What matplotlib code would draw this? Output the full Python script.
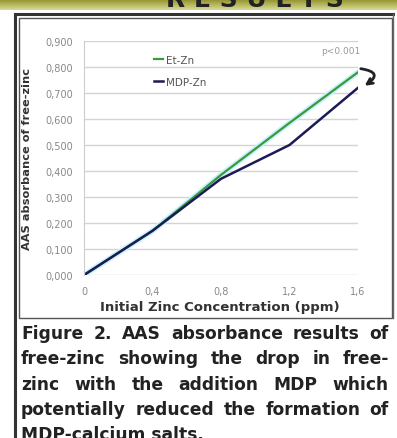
"""
AAS absorbance of free zinc, Figure 2 from poster
"""

import matplotlib.pyplot as plt
from matplotlib.patches import Rectangle
from matplotlib.colors import LinearSegmentedColormap
import numpy as np

conc = [0, 0.4, 0.8, 1.2, 1.6]
et_zn = [0.0, 0.17, 0.385, 0.585, 0.78]
mdp_zn = [0.0, 0.17, 0.37, 0.50, 0.72]
yticks = [0.0, 0.1, 0.2, 0.3, 0.4, 0.5, 0.6, 0.7, 0.8, 0.9]
xticks = [0, 0.4, 0.8, 1.2, 1.6]
xtick_labels = ["0", "0,4", "0,8", "1,2", "1,6"]

caption_lines = [
    "Figure 2.  AAS absorbance results of",
    "free-zinc showing the drop in free-",
    "zinc with the addition MDP which",
    "potentially reduced the formation of",
    "MDP-calcium salts.",
]

W, H = 397, 439
fig = plt.figure(figsize=(W / 100, H / 100), dpi=100)
fig.patch.set_facecolor("white")


def fx(px):
    return px / W


def fy(py):
    return 1 - py / H


# top banner
grad = np.linspace(0, 1, 20).reshape(-1, 1)
ban = fig.add_axes([0, fy(11), 1, 11 / H])
ban.imshow(grad, aspect="auto", extent=[0, 1, 0, 1],
           cmap=LinearSegmentedColormap.from_list("b", ["#8f8f30", "#b5b75a", "#d6d89a"]))
ban.axis("off")
fig.text(fx(255), fy(7), "R E S U L T S", ha="center", va="baseline", fontsize=18,
         fontweight="bold", color="#222222")

# frames
fig.add_artist(plt.Line2D([fx(15), fx(15)], [fy(15), 0], color="#333333", lw=2.2))
fig.add_artist(plt.Line2D([fx(15), fx(393)], [fy(15), fy(15)], color="#333333", lw=2.2))
fig.add_artist(Rectangle((fx(19), fy(319)), fx(373), 300 / H, fill=False,
                         edgecolor="#555555", lw=1.0))
fig.add_artist(plt.Line2D([fx(393), fx(393)], [fy(15), fy(319)], color="#666666", lw=1.0))

ax = fig.add_axes([fx(84), fy(276), fx(274), (276 - 42) / H])
ax.plot(conc, et_zn, color="#c8f0ff", lw=4, solid_capstyle="round")
ax.plot(conc, et_zn, color="#3a9a3a", lw=1.6, label="Et-Zn")
ax.plot(conc, mdp_zn, color="#1b1b55", lw=1.8, label="MDP-Zn")

ax.set_xlim(0, 1.6)
ax.set_ylim(0, 0.9)
ax.set_yticks(yticks)
ax.set_yticklabels([f"{v:.3f}".replace(".", ",") for v in yticks])
ax.set_xticks(xticks)
ax.set_xticklabels(xtick_labels)
ax.tick_params(length=0, labelsize=7, labelcolor="#888888")
ax.tick_params(axis="y", pad=8)
ax.tick_params(axis="x", pad=8)
ax.grid(axis="y", color="#d4d4d4", lw=1)
for s in ["top", "right", "bottom"]:
    ax.spines[s].set_visible(False)
ax.spines["left"].set_color("#cccccc")
ax.set_xlabel("Initial Zinc Concentration (ppm)", fontsize=9.5, fontweight="bold",
              color="#333333")
ax.xaxis.set_label_coords(0.496, -0.105)
ax.set_ylabel("AAS absorbance of free-zinc", fontsize=8.2, fontweight="bold",
              color="#333333")
ax.yaxis.set_label_coords(-0.19, 0.5)
ax.legend(loc="upper left", bbox_to_anchor=(0.22, 0.98), frameon=False, fontsize=7.5,
          handlelength=0.9, handletextpad=0.3, labelspacing=1.1, labelcolor="#555555")

ax.annotate("", xy=(1.625, 0.722), xytext=(1.6, 0.795), annotation_clip=False,
            arrowprops=dict(arrowstyle="->", color="#222222", lw=2,
                            connectionstyle="arc3,rad=-1.4"))
ax.text(1.5, 0.865, "p<0.001", fontsize=6.5, color="#999999", ha="center", va="center")

# justified caption
renderer = fig.canvas.get_renderer()
left_px, right_px = 21, 389
fs = 12.3
for i, line in enumerate(caption_lines):
    y = fy(334 + i * 25.3)
    words = line.split()
    if i == len(caption_lines) - 1:
        fig.text(fx(left_px), y, line, fontsize=fs, fontweight="bold", color="#222222",
                 va="center", ha="left")
        continue
    texts = [fig.text(0, y, w, fontsize=fs, fontweight="bold", color="#222222",
                      va="center", ha="left") for w in words]
    widths = [t.get_window_extent(renderer).width for t in texts]
    gap = (right_px - left_px - sum(widths)) / (len(words) - 1)
    x = left_px
    for t, w in zip(texts, widths):
        t.set_x(fx(x))
        x += w + gap

fig.savefig("out.png", dpi=100)
